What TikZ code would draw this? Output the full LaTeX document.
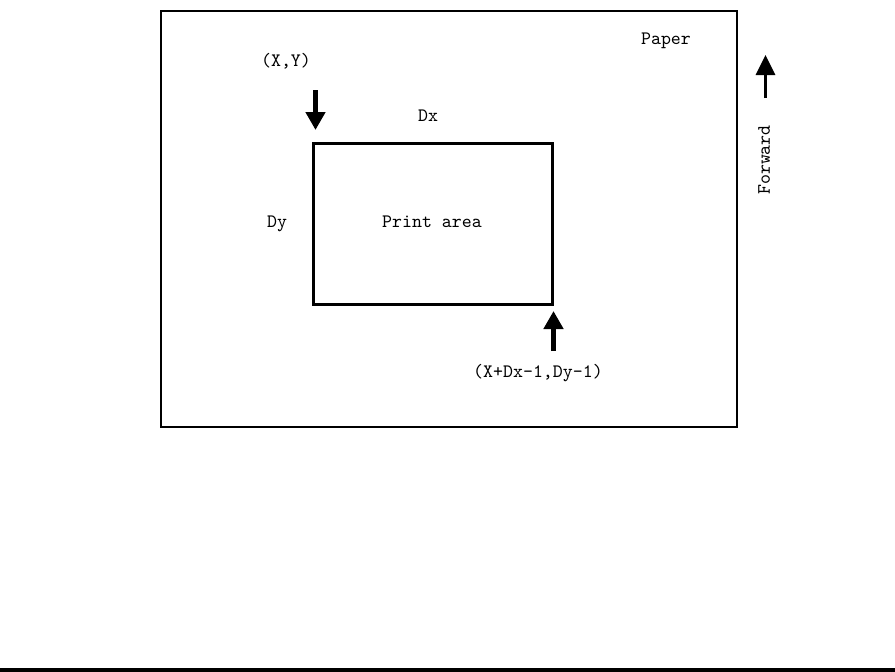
\documentclass[tikz,border=0pt]{standalone}
\usepackage{fontspec}
\usetikzlibrary{arrows.meta}

\begin{document}
\begin{tikzpicture}[
		txt/.style={font=\ttfamily\fontsize{10.8}{12}\selectfont, inner sep=0pt, anchor=base},
		fatarrow/.style={line width=0.1cm, -{Triangle[width=0.38cm, length=0.36cm]}},
		thinarrow/.style={line width=0.06cm, -{Triangle[width=0.38cm, length=0.4cm]}}]
		%%%%% START %%%%%
		\useasboundingbox (0, 0) rectangle (17.9, -13.42);
		
		\draw[line width=0.4mm] (3.22, -0.22) rectangle (14.74, -8.54);
		\node[txt] (paper) at (13.32, -0.88) {Paper};
		
		\coordinate (pa-tl) at (6.27, -2.87);
		\coordinate (pa-br) at (11.04, -6.08);
		\draw[line width=0.6mm] (pa-tl) rectangle (pa-br);
		\node[txt] (printarea) at (8.64, -4.54) {Print area};
		
		\node[txt] (dx) at (8.56, -2.42) {Dx};
		\node[txt] (dy) at (5.54, -4.54) {Dy};
		
		\node[txt] (xy) at (5.72, -1.32) {(X,Y)};
		\coordinate (xy-tail) at (6.31, -1.80);
		\coordinate (xy-tip) at (6.31, -2.60);
		\draw[fatarrow] (xy-tail) -- (xy-tip);
		
		\node[txt] (end) at (10.76, -7.54) {(X+Dx-1,Dy-1)};
		\coordinate (end-tail) at (11.07, -7.02);
		\coordinate (end-tip) at (11.07, -6.22);
		\draw[fatarrow] (end-tail) -- (end-tip);
		
		\coordinate (fw-tail) at (15.31, -1.96);
		\coordinate (fw-tip) at (15.31, -1.10);
		\draw[thinarrow] (fw-tail) -- (fw-tip);
		\node[txt, anchor=center, rotate=90] (forward) at (15.28, -3.20) {Forward};
		
		\draw[fill=black] (0, -13.36) rectangle (17.9, -13.42);
		
		%%%%% END %%%%%
	\end{tikzpicture}
\end{document}
